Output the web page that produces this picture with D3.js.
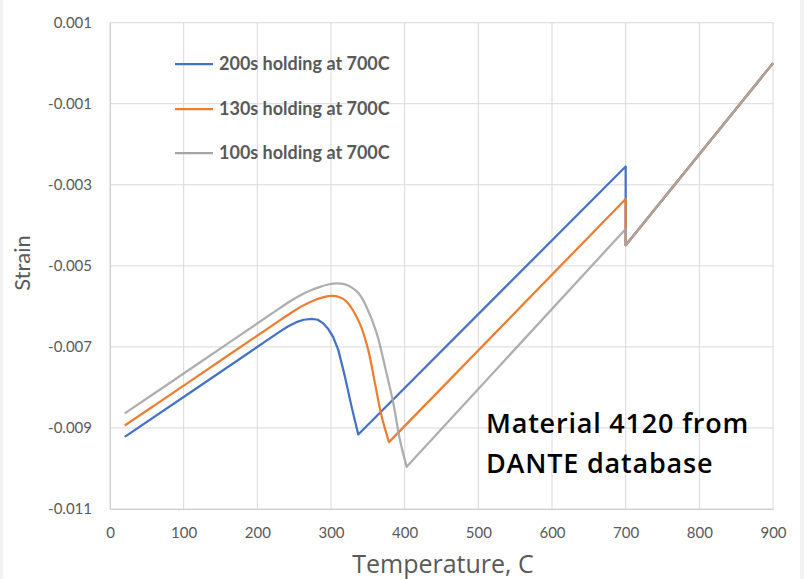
<!DOCTYPE html>
<html><head><meta charset="utf-8">
<script src="https://cdn.jsdelivr.net/npm/d3@7"></script>
<style>html,body{margin:0;padding:0;background:#fff;} svg{display:block;font-family:Lato,'Open Sans',sans-serif;}</style>
</head><body><svg id="chart" width="804" height="579"></svg>
<script>
// ---- data ----
const seriesNames = ["200s holding at 700C", "130s holding at 700C", "100s holding at 700C"];
const seriesColors = ["#4472C4", "#ED7D31", "#A5A5A5"];

const temp200 = [20, 120, 230, 242, 253, 263, 274, 282, 289.5, 296, 303, 310, 319, 328, 337, 700, 700, 900];
const strain200 = [-0.00922, -0.00799, -0.00663, -0.00649, -0.00639, -0.00633, -0.00631, -0.00633, -0.00642, -0.00655, -0.00676, -0.00708, -0.00774, -0.00848, -0.00916, -0.00255, -0.00449, 0];

const temp130 = [20, 120, 230, 245, 260, 280, 290, 301, 311, 321, 339, 350.6, 359.7, 368.8, 378.7, 700, 700, 900];
const strain130 = [-0.00894, -0.00771, -0.00635, -0.00617, -0.00600, -0.00583, -0.00577, -0.00574, -0.00577, -0.00588, -0.00642, -0.00708, -0.0079, -0.00872, -0.00935, -0.00335, -0.00449, 0];

const temp100 = [20, 120, 230, 244, 258, 272, 285, 296, 307.7, 318, 328, 338, 348.4, 362, 373.3, 384.6, 393.6, 402.7, 700, 700, 900];
const strain100 = [-0.00864, -0.00741, -0.00605, -0.00588, -0.00573, -0.00561, -0.00552, -0.00546, -0.00543, -0.00545, -0.00553, -0.00569, -0.00602, -0.00666, -0.00749, -0.00839, -0.0093, -0.00996, -0.00409, -0.00449, 0];

const xTickValues = [0, 100, 200, 300, 400, 500, 600, 700, 800, 900];
const yTickValues = [0.001, -0.001, -0.003, -0.005, -0.007, -0.009, -0.011];
const yTickLabels = ["0.001", "-0.001", "-0.003", "-0.005", "-0.007", "-0.009", "-0.011"];

const xTitle = "Temperature, C";
const yTitle = "Strain";
const noteLines = ["Material 4120 from", "DANTE database"];

// ---- chart ----
const svg = d3.select("#chart");
const plot = {left: 110, right: 773, top: 22.7, bottom: 509};
const x = d3.scaleLinear().domain([0, 900]).range([plot.left, plot.right]);
const y = d3.scaleLinear().domain([-0.011, 0.001]).range([plot.bottom, plot.top]);

svg.append("rect").attr("width", 804).attr("height", 579).attr("fill", "#fff");
svg.append("rect").attr("x", 0).attr("y", 0).attr("width", 3).attr("height", 579).attr("fill", "#f3f3f3");
svg.append("rect").attr("x", 800).attr("y", 0).attr("width", 4).attr("height", 579).attr("fill", "#f3f3f3");

const grid = svg.append("g");
grid.selectAll("line.v").data(xTickValues).join("line")
  .attr("x1", d => x(d)).attr("x2", d => x(d))
  .attr("y1", plot.top).attr("y2", plot.bottom)
  .attr("stroke", "#d9d9d9").attr("stroke-width", 1);
grid.selectAll("line.h").data(yTickValues).join("line")
  .attr("x1", plot.left).attr("x2", plot.right)
  .attr("y1", d => y(d)).attr("y2", d => y(d))
  .attr("stroke", "#d9d9d9").attr("stroke-width", 1);

const xAxis = svg.append("g").attr("transform", `translate(0,${plot.bottom})`)
  .call(d3.axisBottom(x).tickValues(xTickValues).tickSize(0).tickPadding(18));
const yAxis = svg.append("g").attr("transform", `translate(${plot.left},0)`)
  .call(d3.axisLeft(y).tickValues(yTickValues).tickSize(0).tickPadding(18)
    .tickFormat((d, i) => yTickLabels[i]));
[xAxis, yAxis].forEach(g => {
  g.select(".domain").attr("stroke", "#cfcfcf").attr("stroke-width", 1);
  g.selectAll("text").attr("fill", "#595959").attr("font-size", 15).attr("font-family", "Lato,'Open Sans',sans-serif");
});

// series
const series = [
  {t: temp200, s: strain200},
  {t: temp130, s: strain130},
  {t: temp100, s: strain100}
];
function buildPath(ts, ss) {
  const pts = ts.map((t, i) => [t, ss[i]]);
  const k = d3.minIndex(ss);
  const curved = d3.line().x(d => x(d[0])).y(d => y(d[1])).curve(d3.curveCatmullRom.alpha(0.5))(pts.slice(0, k + 1));
  const straight = d3.line().x(d => x(d[0])).y(d => y(d[1]))(pts.slice(k));
  return curved + straight.replace(/^M/, "L");
}
series.forEach((sr, i) => {
  svg.append("path").attr("d", buildPath(sr.t, sr.s))
    .attr("fill", "none").attr("stroke", seriesColors[i]).attr("stroke-width", 2.25)
    .attr("stroke-opacity", i === 2 ? 0.9 : 1)
    .attr("stroke-linejoin", "round");
});

// legend
const legendY = [64, 109, 153];
const lg = svg.append("g");
seriesNames.forEach((name, i) => {
  lg.append("line").attr("x1", 175).attr("x2", 213).attr("y1", legendY[i]).attr("y2", legendY[i])
    .attr("stroke", seriesColors[i]).attr("stroke-width", 2.25);
  lg.append("text").attr("x", 219).attr("y", legendY[i]).attr("dy", "0.35em")
    .attr("font-size", 18).attr("font-weight", 700).attr("fill", "#595959").text(name);
});

// titles
svg.append("text").attr("x", 443).attr("y", 573).attr("text-anchor", "middle")
  .attr("font-size", 25).attr("font-family", "'Open Sans',Lato,sans-serif").attr("fill", "#595959").text(xTitle);
svg.append("text").attr("transform", "translate(30,263) rotate(-90)").attr("text-anchor", "middle")
  .attr("font-size", 22).attr("fill", "#595959").text(yTitle);

// annotation
noteLines.forEach((ln, i) => {
  svg.append("text").attr("x", 486).attr("y", 433 + i * 40)
    .attr("font-size", 27).attr("font-weight", 600).attr("letter-spacing", 0.8)
    .attr("font-family", "'Open Sans',Lato,sans-serif")
    .attr("fill", "#000").text(ln);
});
</script>
</body></html>
